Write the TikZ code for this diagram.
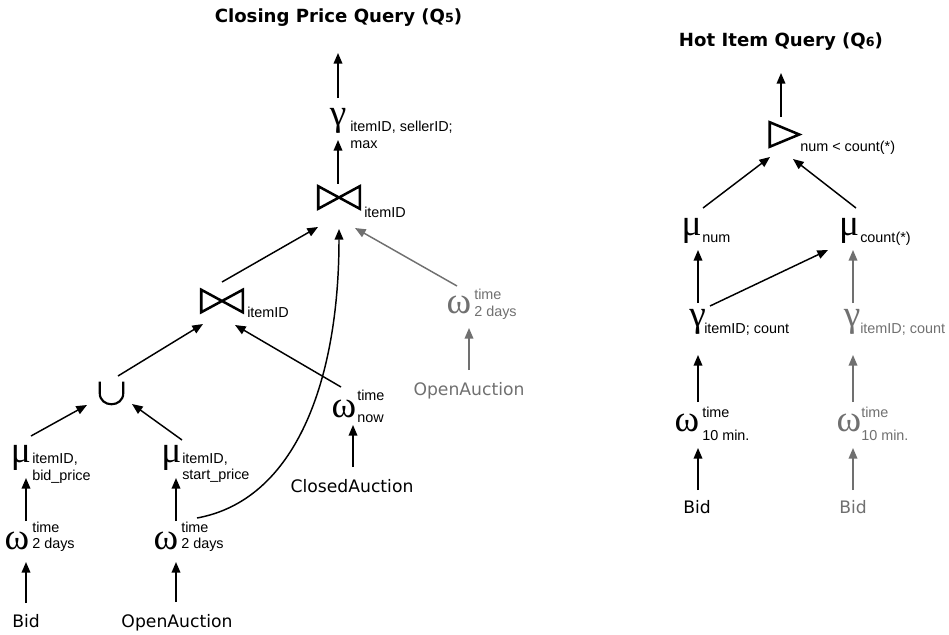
\documentclass[tikz,border=0pt]{standalone}
\usepackage{fontspec}
\setmainfont{Liberation Sans}
\newfontfamily\verd{DejaVu Sans}
\newfontfamily\grkf{Liberation Serif}
\usetikzlibrary{arrows.meta}
\definecolor{gr}{RGB}{112,112,112}
\begin{document}
\begin{tikzpicture}[x=0.75pt,y=-0.75pt,
  arr/.style={-{Triangle[length=8pt,width=6.5pt]}, line width=1.1pt},
  garr/.style={arr, draw=gr},
  sub/.style={anchor=base west, inner sep=0, font=\fontsize{10.8}{12}\selectfont},
  grk/.style={inner sep=0, font=\grkf\fontsize{28}{28}\selectfont},
  lbl/.style={anchor=base, inner sep=0, font=\verd\fontsize{12.9}{14}\selectfont},
  ttl/.style={anchor=base, inner sep=0, font=\verd\bfseries\fontsize{13.6}{16}\selectfont},
  bow/.style={inner sep=0, minimum width=30.75pt, minimum height=16.5pt},
  uni/.style={inner sep=0, minimum width=17.25pt, minimum height=16.5pt},
  tri/.style={inner sep=0, minimum width=21.75pt, minimum height=18pt},
  symline/.style={line width=1.9pt, line join=miter, miter limit=3}
]
\useasboundingbox (0,0) rectangle (949,635);

% ---------------- Closing Price Query ----------------
\node[ttl] (t5) at (338.5,23) {Closing Price Query (Q{\fontsize{9.5}{10}\selectfont 5})};
\coordinate (o5) at (338,53);
\node[grk] (g5) at (338,121) {γ};
\node[sub] (g5a) at (350,132) {itemID, sellerID;};
\node[sub] (g5b) at (350,148) {max};
\draw[arr] ([shift={(0,-23)}]g5.center) -- (o5);

\node[bow] (J2) at (339,197.5) {};
\draw[symline] (J2.north west) -- (J2.south east) -- (J2.north east) -- (J2.south west) -- cycle;
\node[sub] (J2s) at (364,217) {itemID};
\draw[arr] ([shift={(-1,-14)}]J2.center) -- ([shift={(0,19)}]g5.center);

\node[bow] (J1) at (222,301) {};
\draw[symline] (J1.north west) -- (J1.south east) -- (J1.north east) -- (J1.south west) -- cycle;
\node[sub] (J1s) at (247,317) {itemID};
\draw[arr] ([shift={(0,-19)}]J1.center) -- ([shift={(-21,29.5)}]J2.center);

\node[uni] (U) at (111.5,393) {};
\draw[line width=1.6pt] (U.north west) -- (U.west) .. controls ([shift={(0,15)}]U.west) and ([shift={(0,15)}]U.east) .. (U.east) -- (U.north east);
\draw[arr] ([shift={(6.5,-17)}]U.center) -- ([shift={(-19,23)}]J1.center);

\node[grk] (M1) at (21,457.5) {μ};
\node[sub] (M1a) at (32,463) {itemID,};
\node[sub] (M1b) at (32,480) {bid\_price};
\draw[arr] ([shift={(10,-21.5)}]M1.center) -- ([shift={(-24.5,12)}]U.center);

\node[grk] (M2) at (171.5,457.5) {μ};
\node[sub] (M2a) at (182,463) {itemID,};
\node[sub] (M2b) at (182,479) {start\_price};
\draw[arr] ([shift={(10.5,-17.5)}]M2.center) -- ([shift={(20.5,11)}]U.center);

\node[grk] (W1) at (17,541) {ω};
\node[sub] (W1a) at (32,532) {time};
\node[sub] (W1b) at (32,548) {2 days};
\draw[arr] ([shift={(9,-20)}]W1.center) -- ([shift={(5,20.5)}]M1.center);
\node[lbl] (B1) at (26,627) {Bid};
\draw[arr] ([shift={(0,-24)}]B1.base) -- ([shift={(9,21)}]W1.center);

\node[grk] (W2) at (166,541) {ω};
\node[sub] (W2a) at (181,532) {time};
\node[sub] (W2b) at (181,548) {2 days};
\draw[arr] ([shift={(10,-20)}]W2.center) -- ([shift={(4.5,20.5)}]M2.center);
\node[lbl] (OA1) at (177,627) {OpenAuction};
\draw[arr] ([shift={(-1,-25)}]OA1.base) -- ([shift={(10,21)}]W2.center);
\draw[arr] ([shift={(31,-23)}]W2.center) .. controls (296,500) and (339,380) .. ([shift={(0,31.5)}]J2.center);

\node[grk] (W3) at (344,408.5) {ω};
\node[sub] (W3a) at (357,400) {time};
\node[sub] (W3b) at (357,422) {now};
\draw[arr] ([shift={(-3,-21.5)}]W3.center) -- ([shift={(13,24)}]J1.center);
\node[lbl] (CA) at (352,492) {ClosedAuction};
\draw[arr] ([shift={(1,-25)}]CA.base) -- ([shift={(9,16.5)}]W3.center);

\node[grk, text=gr] (W4) at (459,305) {ω};
\node[sub, text=gr] (W4a) at (474,299) {time};
\node[sub, text=gr] (W4b) at (474,316) {2 days};
\draw[garr] ([shift={(-2,-19)}]W4.center) -- ([shift={(16,30.5)}]J2.center);
\node[lbl, text=gr] (OA2) at (469,395) {OpenAuction};
\draw[garr] ([shift={(0,-25)}]OA2.base) -- ([shift={(10,23)}]W4.center);

% ---------------- Hot Item Query ----------------
\node[ttl] (t6) at (781,47) {Hot Item Query (Q{\fontsize{9.5}{10}\selectfont 6})};
\coordinate (o6) at (781,73);
\node[tri] (T) at (784.5,134.5) {};
\draw[symline] (T.north west) -- (T.east) -- (T.south west) -- cycle;
\node[sub] (Ts) at (800,151) {num < count(*)};
\draw[arr] ([shift={(-3.5,-17.5)}]T.center) -- (o6);

\node[grk] (M3) at (691.5,231) {μ};
\node[sub] (M3s) at (702,242) {num};
\node[grk] (M4) at (849,231) {μ};
\node[sub] (M4s) at (860,242) {count(*)};
\draw[arr] ([shift={(11.5,-23)}]M3.center) -- ([shift={(-14.5,22.5)}]T.center);
\draw[arr] ([shift={(7,-23)}]M4.center) -- ([shift={(8.5,24.5)}]T.center);

\node[grk] (G3) at (697.5,321.5) {γ};
\node[sub] (G3s) at (704,333) {itemID; count};
\node[grk, text=gr] (G4) at (852,321.5) {γ};
\node[sub, text=gr] (G4s) at (860,333) {itemID; count};
\draw[arr] ([shift={(0.5,-18.5)}]G3.center) -- ([shift={(6.5,19)}]M3.center);
\draw[arr] ([shift={(12.5,-15.5)}]G3.center) -- ([shift={(-21,19)}]M4.center);
\draw[garr] ([shift={(1,-18.5)}]G4.center) -- ([shift={(4,19)}]M4.center);

\node[grk] (W5) at (687,423) {ω};
\node[sub] (W5a) at (702,417) {time};
\node[sub] (W5b) at (702,440) {10 min.};
\draw[arr] ([shift={(11,-21)}]W5.center) -- ([shift={(0.5,33.5)}]G3.center);
\node[lbl] (B2) at (697,513) {Bid};
\draw[arr] ([shift={(1,-23)}]B2.base) -- ([shift={(11,25)}]W5.center);

\node[grk, text=gr] (W6) at (849,423) {ω};
\node[sub, text=gr] (W6a) at (861,417) {time};
\node[sub, text=gr] (W6b) at (861,440) {10 min.};
\draw[garr] ([shift={(4,-21)}]W6.center) -- ([shift={(1,33.5)}]G4.center);
\node[lbl, text=gr] (B3) at (853,513) {Bid};
\draw[garr] ([shift={(0,-23)}]B3.base) -- ([shift={(4,25)}]W6.center);
\end{tikzpicture}
\end{document}
